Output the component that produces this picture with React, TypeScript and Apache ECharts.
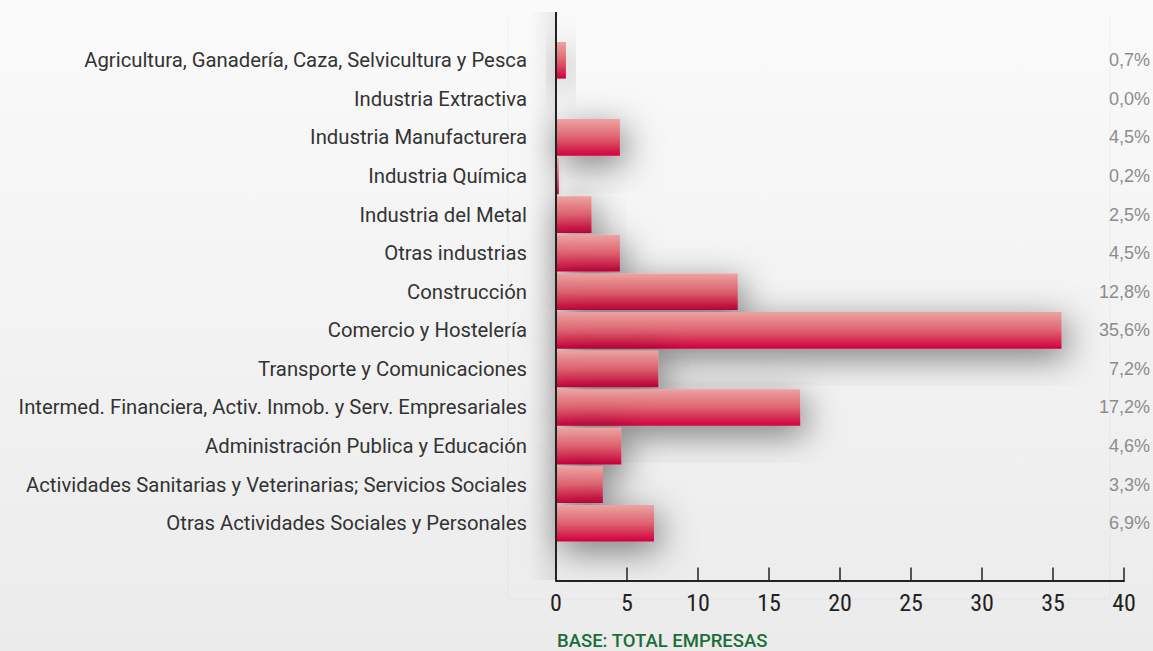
import React, { useEffect, useRef } from "react";
import * as echarts from "echarts";

const categories = [
  "Agricultura, Ganadería, Caza, Selvicultura y Pesca",
  "Industria Extractiva",
  "Industria Manufacturera",
  "Industria Química",
  "Industria del Metal",
  "Otras industrias",
  "Construcción",
  "Comercio y Hostelería",
  "Transporte y Comunicaciones",
  "Intermed. Financiera, Activ. Inmob. y Serv. Empresariales",
  "Administración Publica y Educación",
  "Actividades Sanitarias y Veterinarias; Servicios Sociales",
  "Otras Actividades Sociales y Personales",
];

const values = [0.7, 0.0, 4.5, 0.2, 2.5, 4.5, 12.8, 35.6, 7.2, 17.2, 4.6, 3.3, 6.9];

const xTicks = { min: 0, max: 40, interval: 5 };

const NARROW = "'Liberation Sans Narrow', 'Roboto Condensed', sans-serif";
const FONT = "Roboto, 'Liberation Sans', sans-serif";

const fmt = (v: number) => v.toFixed(1).replace(".", ",") + "%";

export default function App() {
  const ref = useRef<HTMLDivElement>(null);
  useEffect(() => {
    if (!ref.current) return;
    const chart = echarts.init(ref.current, null, { renderer: "svg" });
    const gridLeft = 556;
    const gridTop = 41;
    const gridWidth = 568;
    const gridHeight = 501.5;
    chart.setOption({
      animation: false,
      backgroundColor: {
        type: "linear",
        x: 0, y: 0, x2: 0, y2: 1,
        colorStops: [
          { offset: 0, color: "#fafafa" },
          { offset: 1, color: "#ebebeb" },
        ],
      },
      title: {
        text: "BASE: TOTAL EMPRESAS",
        left: 557,
        top: 631,
        padding: 0,
        textStyle: { color: "#1b6e3a", fontSize: 18.5, fontWeight: 500, fontFamily: FONT },
      },
      graphic: [
        {
          type: "polyline",
          silent: true,
          z: -1,
          shape: { points: [[508, 14], [508, 599], [1110, 599], [1110, 14]] },
          style: { fill: "none", stroke: "rgba(0,0,0,0.035)", lineWidth: 1 },
        },
        {
          type: "rect",
          silent: true,
          z: -1,
          shape: { x: 530, y: 12, width: 26, height: 568 },
          style: {
            fill: {
              type: "linear",
              x: 0, y: 0, x2: 1, y2: 0,
              colorStops: [
                { offset: 0, color: "rgba(0,0,0,0)" },
                { offset: 1, color: "rgba(0,0,0,0.07)" },
              ],
            },
          },
        },
        {
          type: "line",
          silent: true,
          z: 10,
          shape: { x1: gridLeft, y1: 12, x2: gridLeft, y2: 581 },
          style: { stroke: "#222", lineWidth: 2 },
        },
      ],
      grid: { left: gridLeft, top: gridTop, width: gridWidth, height: gridHeight },
      xAxis: {
        type: "value",
        min: xTicks.min,
        max: xTicks.max,
        interval: xTicks.interval,
        position: "bottom",
        offset: 38,
        axisLine: { show: true, lineStyle: { color: "#222", width: 2 } },
        axisTick: { show: true, inside: true, length: 13, lineStyle: { color: "#222", width: 1.5 } },
        axisLabel: { fontSize: 24, color: "#222", margin: 10, fontFamily: NARROW },
        splitLine: { show: false },
      },
      yAxis: [
        {
          type: "category",
          inverse: true,
          data: categories,
          axisLine: { show: false },
          axisTick: { show: false },
          axisLabel: { fontSize: 20.3, color: "#333", margin: 29, fontFamily: FONT },
        },
        {
          type: "category",
          inverse: true,
          position: "right",
          data: categories,
          axisLine: { show: false },
          axisTick: { show: false },
          axisLabel: {
            fontSize: 18,
            color: "#8c8c8c",
            margin: 26,
            align: "right",
            fontFamily: "'Liberation Sans', Arial, sans-serif",
            formatter: (_v: string, i: number) => fmt(values[i]),
          },
        },
      ],
      series: [
        {
          type: "bar",
          data: values,
          barCategoryGap: "5%",
          itemStyle: {
            color: {
              type: "linear",
              x: 0, y: 0, x2: 0, y2: 1,
              colorStops: [
                { offset: 0, color: "#eca4a1" },
                { offset: 0.5, color: "#df6370" },
                { offset: 1, color: "#d0003d" },
              ],
            },
            shadowColor: "rgba(0,0,0,0.5)",
            shadowBlur: 34,
            shadowOffsetX: 5,
            shadowOffsetY: 9,
          },
        },
      ],
    });
    return () => chart.dispose();
  }, []);
  return (
    <div
      ref={ref}
      style={{ position: "fixed", left: 0, top: 0, width: 1153, height: 651 }}
    />
  );
}
